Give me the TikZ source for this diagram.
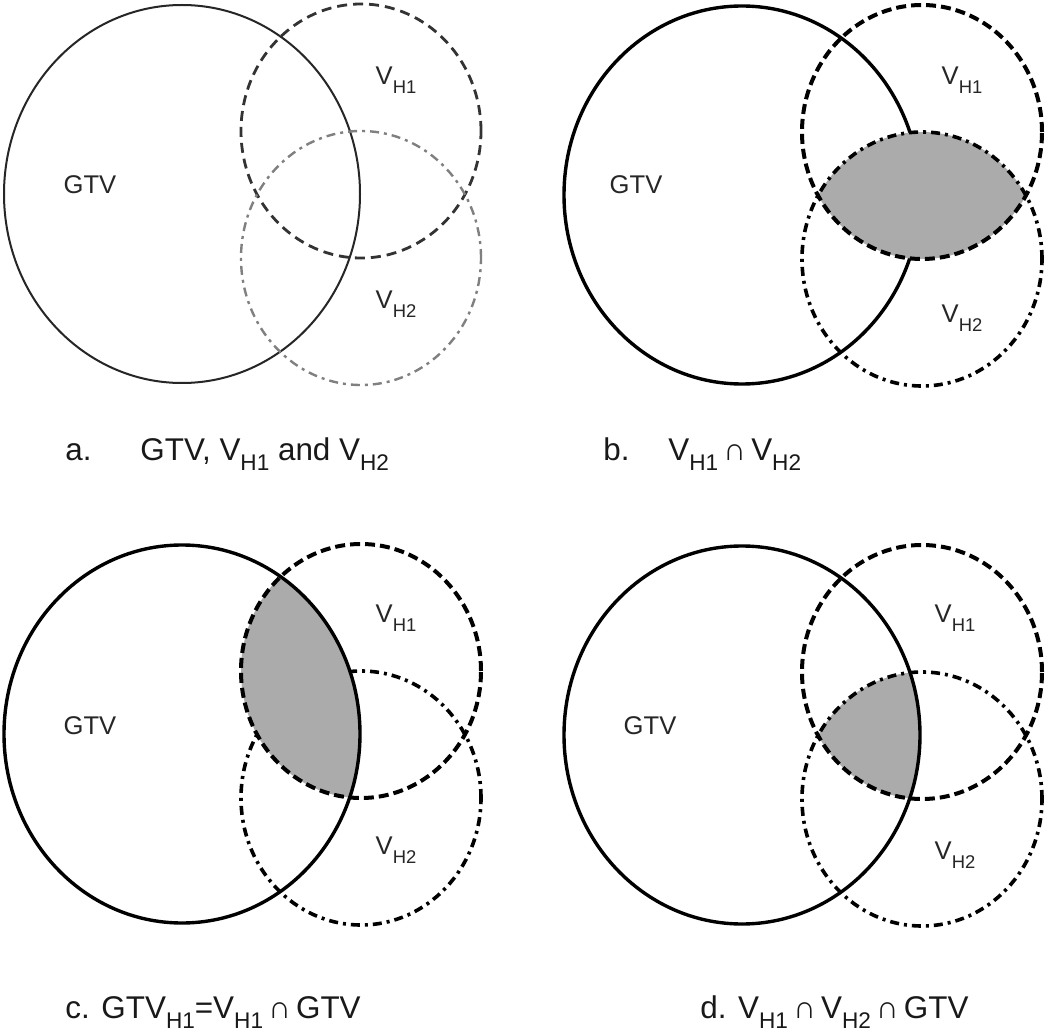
\documentclass[tikz,border=0pt]{standalone}
\usepackage{fontspec}
\setmainfont{Liberation Sans}
\newcommand\Hs[1]{\raisebox{-0.34em}{\scalebox{0.72}{#1}}}
\begin{document}
\begin{tikzpicture}[x=0.5pt,y=-0.5pt,
  gtvA/.style={draw=black!85, line width=1pt},
  vhoneA/.style={draw=black!80, line width=1.4pt, dash pattern=on 5pt off 3pt},
  vhtwoA/.style={draw=black!50, line width=1.2pt, dash pattern=on 4.5pt off 2.5pt on 1.5pt off 2.5pt},
  gtvB/.style={draw=black, line width=1.7pt},
  vhoneB/.style={draw=black, line width=2pt, dash pattern=on 5pt off 2.5pt},
  vhtwoB/.style={draw=black, line width=1.8pt, dash pattern=on 4.5pt off 2.5pt on 1.5pt off 2.5pt},
  grayfill/.style={fill=black!33},
  lbl/.style={inner sep=0pt, text=black!85, font=\fontsize{12.8pt}{14pt}\selectfont},
  captxt/.style={inner sep=0pt, anchor=base west, text=black!90, font=\fontsize{15.7pt}{18pt}\selectfont},
  bigell/.style={x radius=89pt, y radius=94.5pt},
  smallell/.style={x radius=60pt, y radius=63.5pt}]
\useasboundingbox[fill=white] (0,0) rectangle (1050,1032);

% ---------- panel a ----------
\coordinate (aG) at (182,194);
\coordinate (a1) at (361,131);
\coordinate (a2) at (361,258);
\draw[gtvA] (aG) ellipse[bigell];
\draw[vhoneA] (a1) ellipse[smallell];
\draw[vhtwoA] (a2) ellipse[smallell];
\node[lbl] (aGl) at (90,185) {GTV};
\node[lbl] (a1l) at (396,80) {V\Hs{H1}};
\node[lbl] (a2l) at (396,304) {V\Hs{H2}};
\node[captxt] (acapl) at (65,460) {a.};
\node[captxt] (acap) at (140,460) {GTV, V\Hs{H1} and V\Hs{H2}};

% ---------- panel b ----------
\coordinate (bG) at (742,195);
\coordinate (b1) at (922,132);
\coordinate (b2) at (922,259);
\draw[gtvB] (bG) ellipse[bigell];
\begin{scope}
  \clip (b1) ellipse[smallell];
  \fill[grayfill] (b2) ellipse[smallell];
\end{scope}
\draw[vhoneB] (b1) ellipse[smallell];
\draw[vhtwoB] (b2) ellipse[smallell];
\node[lbl] (bGl) at (636,185) {GTV};
\node[lbl] (b1l) at (962,80) {V\Hs{H1}};
\node[lbl] (b2l) at (962,318) {V\Hs{H2}};
\node[captxt] (bcapl) at (603,460) {b.};
\node[captxt] (bcap) at (668,460) {V\Hs{H1}\,∩\,V\Hs{H2}};

% ---------- panel c ----------
\coordinate (cG) at (182,734);
\coordinate (c1) at (361,671);
\coordinate (c2) at (361,798);
\draw[vhtwoB] (c2) ellipse[smallell];
\begin{scope}
  \clip (c1) ellipse[smallell];
  \fill[grayfill] (cG) ellipse[bigell];
\end{scope}
\draw[gtvB] (cG) ellipse[bigell];
\draw[vhoneB] (c1) ellipse[smallell];
\node[lbl] (cGl) at (90,726) {GTV};
\node[lbl] (c1l) at (396,618) {V\Hs{H1}};
\node[lbl] (c2l) at (396,850) {V\Hs{H2}};
\node[captxt] (ccap) at (65,1018) {c. GTV\Hs{H1}=V\Hs{H1}\,∩\,GTV};

% ---------- panel d ----------
\coordinate (dG) at (742,735);
\coordinate (d1) at (922,672);
\coordinate (d2) at (922,799);
\begin{scope}
  \clip (d1) ellipse[smallell];
  \clip (dG) ellipse[bigell];
  \fill[grayfill] (d2) ellipse[smallell];
\end{scope}
\draw[gtvB] (dG) ellipse[bigell];
\draw[vhoneB] (d1) ellipse[smallell];
\draw[vhtwoB] (d2) ellipse[smallell];
\node[lbl] (dGl) at (650,726) {GTV};
\node[lbl] (d1l) at (955,618) {V\Hs{H1}};
\node[lbl] (d2l) at (955,855) {V\Hs{H2}};
\node[captxt] (dcap) at (700,1018) {d. V\Hs{H1}\,∩\,V\Hs{H2}\,∩\,GTV};
\end{tikzpicture}
\end{document}
